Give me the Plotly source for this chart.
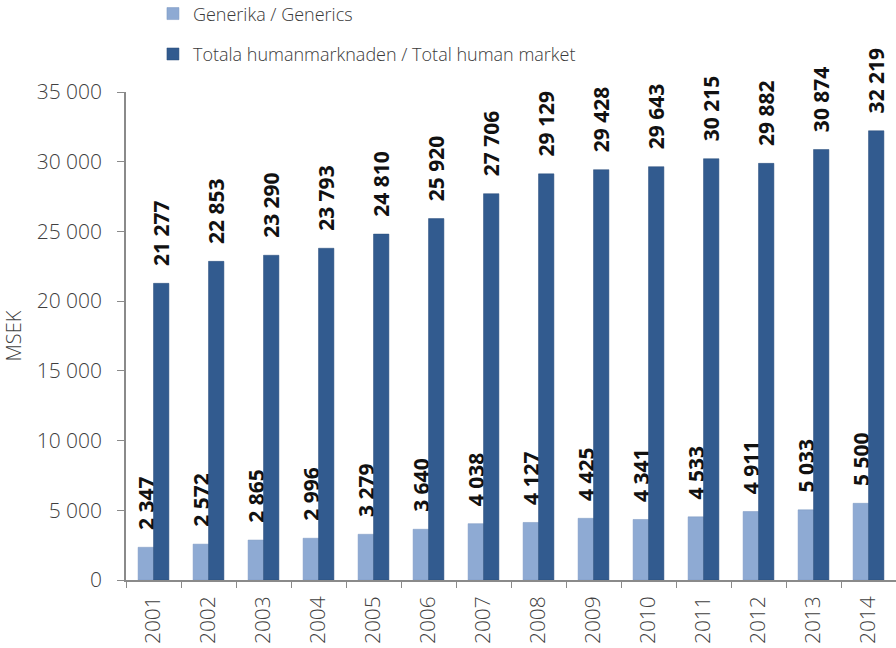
import plotly.graph_objects as go

years = ["2001", "2002", "2003", "2004", "2005", "2006", "2007",
         "2008", "2009", "2010", "2011", "2012", "2013", "2014"]
generics = [2347, 2572, 2865, 2996, 3279, 3640, 4038,
            4127, 4425, 4341, 4533, 4911, 5033, 5500]
total = [21277, 22853, 23290, 23793, 24810, 25920, 27706,
         29129, 29428, 29643, 30215, 29882, 30874, 32219]

name_gen = "Generika / Generics"
name_tot = "Totala humanmarknaden / Total human market"


def fmt(v):
    # thousands separated by a space, padded so the label floats above the bar
    return "\u00a0\u00a0\u2009" + f"{v:,}".replace(",", " ")


lab_font = dict(family="Open Sans", size=21, color="#111111", weight="bold")

fig = go.Figure()
fig.add_trace(go.Bar(
    x=years, y=generics, name=name_gen, legendgroup="g1",
    marker=dict(color="#8eaad3", line=dict(color="#7b97c0", width=0.5)),
    text=[fmt(v) for v in generics], textposition="outside", textangle=-90,
    textfont=lab_font, constraintext="none",
    cliponaxis=False,
))
fig.add_trace(go.Bar(
    x=years, y=total, name=name_tot, legendgroup="g2",
    marker=dict(color="#325b8f", line=dict(color="#284c7a", width=0.5)),
    text=[fmt(v) for v in total], textposition="outside", textangle=-90,
    textfont=lab_font, constraintext="none",
    cliponaxis=False,
))

fig.update_layout(
    width=896, height=648,
    margin=dict(l=126, r=0, t=92, b=68, autoexpand=False),
    paper_bgcolor="white", plot_bgcolor="white",
    barmode="group", bargap=0.44, bargroupgap=0,
    separators=", ",
    font=dict(family="Open Sans", size=18, color="#404040"),
    showlegend=True,
    legend=dict(x=0.035, y=1.198, xanchor="left", yanchor="top",
                orientation="v", tracegroupgap=14,
                font=dict(family="Open Sans", size=18, color="#3a3a3a", weight=300),
                bgcolor="rgba(0,0,0,0)"),
)
fig.update_xaxes(
    type="category", tickangle=-90, tickson="boundaries",
    showline=True, linecolor="#8a8a8a", linewidth=1.5,
    ticks="outside", ticklen=6, tickcolor="#8a8a8a",
    showgrid=False, ticklabelstandoff=6,
    tickfont=dict(family="Open Sans", size=21, color="#404040", weight=300),
)
fig.update_yaxes(
    range=[0, 35000], dtick=5000, tickformat=",d",
    showline=True, linecolor="#8a8a8a", linewidth=1.5,
    ticks="outside", ticklen=7, tickcolor="#8a8a8a",
    showgrid=False, zeroline=False, ticklabelstandoff=11,
    title=dict(text="MSEK", font=dict(family="Open Sans", size=20, color="#404040", weight=300),
               standoff=17),
    tickfont=dict(family="Open Sans", size=21, color="#404040", weight=300),
)

# remove the default page margin so the figure fills the window exactly
fig.write_html("out.html", config={"displayModeBar": False},
               post_script="document.body.style.margin='0';")
